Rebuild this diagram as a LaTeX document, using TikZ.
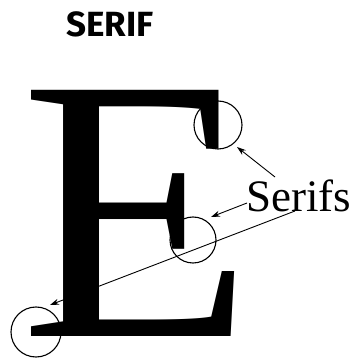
\documentclass[tikz,border=0pt]{standalone}
\usepackage{fontspec}
\setmainfont{Liberation Serif}
\newfontfamily\titlefont{Fira Sans}
\usepackage{tikz}
\usetikzlibrary{
  arrows.meta,
  positioning,
  calc
}
\usepackage{xcolor}
\definecolor{inkblack}{HTML}{000000}
\tikzset{
  ring/.style={
    circle, draw=inkblack, line width=1.1pt, inner sep=0pt,
    minimum size=#1
  },
  ring/.default=48pt,
  pointer/.style={-{Stealth[length=9pt, width=6pt]}, line width=0.9pt, draw=inkblack},
}

\begin{document}
\begin{tikzpicture}[x=1pt, y=1pt]
\useasboundingbox (0,0) rectangle (351,362);

% Title
\node[anchor=base, inner sep=0pt, font=\titlefont\bfseries\fontsize{35}{35}\selectfont] (title) at (110,325) {SERIF};

% Big letter
\node[anchor=base west, inner sep=0pt, xscale=1.015, text height=246pt, text depth=0pt,
      font=\fontsize{376}{376}\selectfont] (letter) at (20,25) {E};

% Circles round the serifs
\node[ring=48pt] (topserif) at (218,237) {};
\node[ring=46pt] (midserif) at (193,122) {};
\node[ring=50pt] (lowserif) at (36,30) {};

% Label
\node[anchor=base west, inner sep=0pt, font=\fontsize{45}{45}\selectfont] (label) at (246,150) {Serifs};

% Arrow ends
\coordinate (topstart) at (275,185);
\coordinate (toptip) at (237,215);
\coordinate (midstart) at (247,159);
\coordinate (midtip) at (211,145);
\coordinate (lowstart) at (295,151);
\coordinate (lowtip) at (50,57);

% Arrows
\draw[pointer] (topstart) -- (toptip);
\draw[pointer] (midstart) -- (midtip);
\draw[pointer] (lowstart) -- (lowtip);

\end{tikzpicture}
\end{document}
